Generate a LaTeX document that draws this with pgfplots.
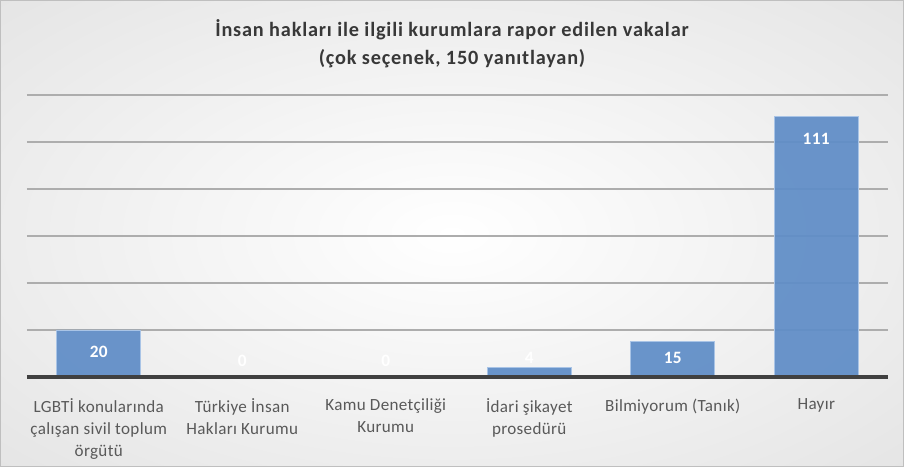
\documentclass[border=0pt]{standalone}
\usepackage{fontspec}
\setmainfont{Carlito}
\newfontfamily\titlefont[LetterSpace=4]{Carlito}
\newfontfamily\tickfont[LetterSpace=2]{Carlito}
\usepackage{pgfplots}
\pgfplotsset{compat=1.18}
\definecolor{barblue}{HTML}{5F8DC7}
\definecolor{baredge}{HTML}{A9C4E6}
\begin{document}
\begin{tikzpicture}
\useasboundingbox (0,0) rectangle (678pt,350.25pt);
\begin{scope}
\clip (0,0) rectangle (678pt,350.25pt);
\shade[inner color=white, outer color=black!15] (339pt,175.125pt) ellipse (700pt and 370pt);
\end{scope}
\draw[black!25, line width=0.75pt] (0.375pt,0.375pt) rectangle (677.625pt,349.875pt);
\node[anchor=base, font=\titlefont\bfseries\fontsize{15.2}{21}\selectfont, text=black!78] at (339pt,322.8pt) {İnsan hakları ile ilgili kurumlara rapor edilen vakalar};
\node[anchor=base, font=\titlefont\bfseries\fontsize{15.2}{21}\selectfont, text=black!78] at (339pt,301.8pt) {(çok seçenek, 150 yanıtlayan)};
\begin{axis}[
  at={(20.25pt,67.5pt)}, anchor=south west,
  scale only axis, width=645.75pt, height=211.5pt,
  xmin=-0.5, xmax=5.5, ymin=0, ymax=120,
  enlargelimits=false,
  axis line style={draw=none},
  major tick length=0pt,
  ytick={20,40,60,80,100,120}, yticklabels={},
  ymajorgrids, grid style={black!32, line width=0.9pt},
  xtick={0,1,2,3,4,5},
  xticklabels={{LGBTİ konularında\\çalışan sivil toplum\\örgütü},{Türkiye İnsan\\Hakları Kurumu},{Kamu Denetçiliği\\Kurumu},{İdari şikayet\\prosedürü},{Bilmiyorum (Tanık)},{Hayır}},
  xticklabel style={align=center, font=\tickfont\fontsize{12.8}{16.5}\selectfont, text=black!65, inner sep=0pt, anchor=north, yshift=-16.25pt},
  clip=false,
]
\addplot[ybar, bar width=63pt, fill=barblue, fill opacity=0.93, draw=baredge, line width=0.6pt]
  coordinates {(0,20) (1,0) (2,0) (3,4) (4,15) (5,111)};
\addplot[draw=none, mark=none, nodes near coords, point meta=explicit symbolic,
  every node near coord/.append style={anchor=center, font=\tickfont\bfseries\fontsize{13}{15}\selectfont, text=white, inner sep=0pt}]
  coordinates {(0,10.5)[20] (1,6.8)[0] (2,6.8)[0] (3,8.1)[4] (4,8.1)[15] (5,101.3)[111]};
\draw[black!75, line width=2.4pt] (axis cs:-0.5,0) -- (axis cs:5.5,0);
\end{axis}
\end{tikzpicture}
\end{document}
